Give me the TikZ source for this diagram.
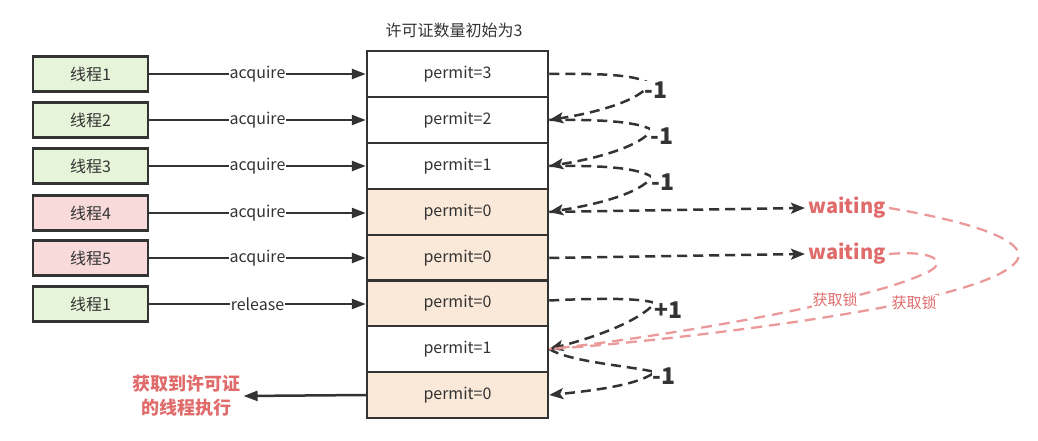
\documentclass[tikz,border=0pt]{standalone}
\usepackage{fontspec}
\setmainfont{Noto Sans CJK SC}
\usetikzlibrary{arrows.meta}
\definecolor{dk}{HTML}{333333}
\definecolor{gfill}{HTML}{E6F4D9}
\definecolor{pfill}{HTML}{F8DADA}
\definecolor{bfill}{HTML}{FAE8D8}
\definecolor{pinktxt}{HTML}{E06B6B}
\definecolor{pinkln}{HTML}{EA9A9A}
\tikzset{
  thread/.style={draw=dk, line width=2.5pt, minimum width=115pt, minimum height=35pt, inner sep=0pt, font=\fontsize{16}{18}\selectfont, text=dk},
  cell/.style={draw=dk, line width=2.5pt, minimum width=181pt, minimum height=46pt, inner sep=0pt, font=\fontsize{16}{18}\selectfont, text=dk},
  solidarr/.style={draw=dk, line width=2.5pt, -{Triangle[length=14pt,width=10pt]}},
  dasharr/.style={draw=dk, line width=2.5pt, dash pattern=on 10pt off 6pt, -{Stealth[length=14pt,width=11pt,inset=3pt]}},
  pinkdash/.style={draw=pinkln, line width=2.3pt, dash pattern=on 11pt off 7pt},
  edgelbl/.style={fill=white, inner sep=1pt, font=\fontsize{16}{18}\selectfont, text=dk},
  numlbl/.style={fill=white, inner sep=1pt, font=\fontsize{23}{26}\selectfont\bfseries, text=dk},
  waitlbl/.style={font=\fontsize{20}{22}\selectfont\bfseries, text=pinktxt},
  locklbl/.style={fill=white, inner sep=1pt, font=\fontsize{15}{16}\selectfont, text=pinktxt},
}
\begin{document}
\begin{tikzpicture}[x=1pt,y=-1pt]
\useasboundingbox (0,0) rectangle (1038,441);
% title
\node[font=\fontsize{16}{18}\selectfont, text=dk] (title) at (454,30) {许可证数量初始为3};
% stack
\node[cell, fill=white] (r1) at (457.5,74) {permit=3};
\node[cell, fill=white] (r2) at (457.5,120) {permit=2};
\node[cell, fill=white] (r3) at (457.5,166) {permit=1};
\node[cell, fill=bfill] (r4) at (457.5,212) {permit=0};
\node[cell, fill=bfill] (r5) at (457.5,258) {permit=0};
\node[cell, fill=bfill] (r6) at (457.5,303.5) {permit=0};
\node[cell, fill=white] (r7) at (457.5,349) {permit=1};
\node[cell, fill=bfill] (r8) at (457.5,395) {permit=0};
% threads
\node[thread, fill=gfill] (t1) at (90.5,74) {线程1};
\node[thread, fill=gfill] (t2) at (90.5,120) {线程2};
\node[thread, fill=gfill] (t3) at (90.5,166) {线程3};
\node[thread, fill=pfill] (t4) at (90.5,213) {线程4};
\node[thread, fill=pfill] (t5) at (90.5,258) {线程5};
\node[thread, fill=gfill] (t6) at (90.5,304) {线程1};
% thread arrows
\draw[solidarr] (t1.east) -- node[edgelbl]{acquire} (r1.west);
\draw[solidarr] (t2.east) -- node[edgelbl]{acquire} (r2.west);
\draw[solidarr] (t3.east) -- node[edgelbl]{acquire} (r3.west);
\draw[solidarr] (t4.east) -- node[edgelbl]{acquire} (r4.west|-t4.east);
\draw[solidarr] (t5.east) -- node[edgelbl]{acquire} (r5.west);
\draw[solidarr] (t6.east) -- node[edgelbl]{release} (r6.west|-t6.east);
% waiting
\node[waitlbl] (w1) at (847,208) {waiting};
\node[waitlbl] (w2) at (847,254) {waiting};
% dashed count curves
\draw[dasharr] (r1.east) .. controls (610,73) and (640,76) .. (650,84) .. controls (640,100) and (600,112) .. (r2.east);
\node[numlbl] (m1) at (656,90) {-1};
\draw[dasharr] (r2.east) .. controls (610,119) and (640,123) .. (652,130) .. controls (640,146) and (600,158) .. (r3.east);
\node[numlbl] (m2) at (662,136) {-1};
\draw[dasharr] (r3.east) .. controls (610,165) and (640,169) .. (652,177) .. controls (640,193) and (600,204) .. (r4.east);
\node[numlbl] (m3) at (663,182) {-1};
\draw[dasharr] (r6.east) ++(0,-3) .. controls (600,298) and (640,298) .. (655,303) .. controls (640,320) and (600,336) .. (r7.east);
\node[numlbl] (p1) at (668,310) {+1};
\draw[dasharr] (r7.east) .. controls (570,362) and (630,366) .. (655,372) .. controls (640,384) and (600,390) .. (r8.east);
\node[numlbl] (m4) at (664,376) {-1};
% to waiting
\draw[dasharr] (r4.east) -- (w1.west);
\draw[dasharr] (r5.east) -- (w2.west);
% pink curves
\draw[pinkdash] (w1.east) .. controls (990,225) and (1030,245) .. (1016,262) .. controls (1000,280) and (950,292) .. (905,303) .. controls (800,325) and (620,345) .. (r7.east);
\node[locklbl] (l1) at (914,303) {获取锁};
\draw[pinkdash] (w2.east) .. controls (935,250) and (948,262) .. (928,272) .. controls (900,285) and (870,292) .. (840,300) .. controls (760,320) and (620,342) .. (r7.east);
\node[locklbl] (l2) at (835,300) {获取锁};
% result
\node[font=\fontsize{18}{24}\selectfont\bfseries, text=pinktxt, align=center] (res) at (186,396) {获取到许可证\\的线程执行};
\draw[solidarr] (r8.west) -- (res.east);
\end{tikzpicture}
\end{document}
